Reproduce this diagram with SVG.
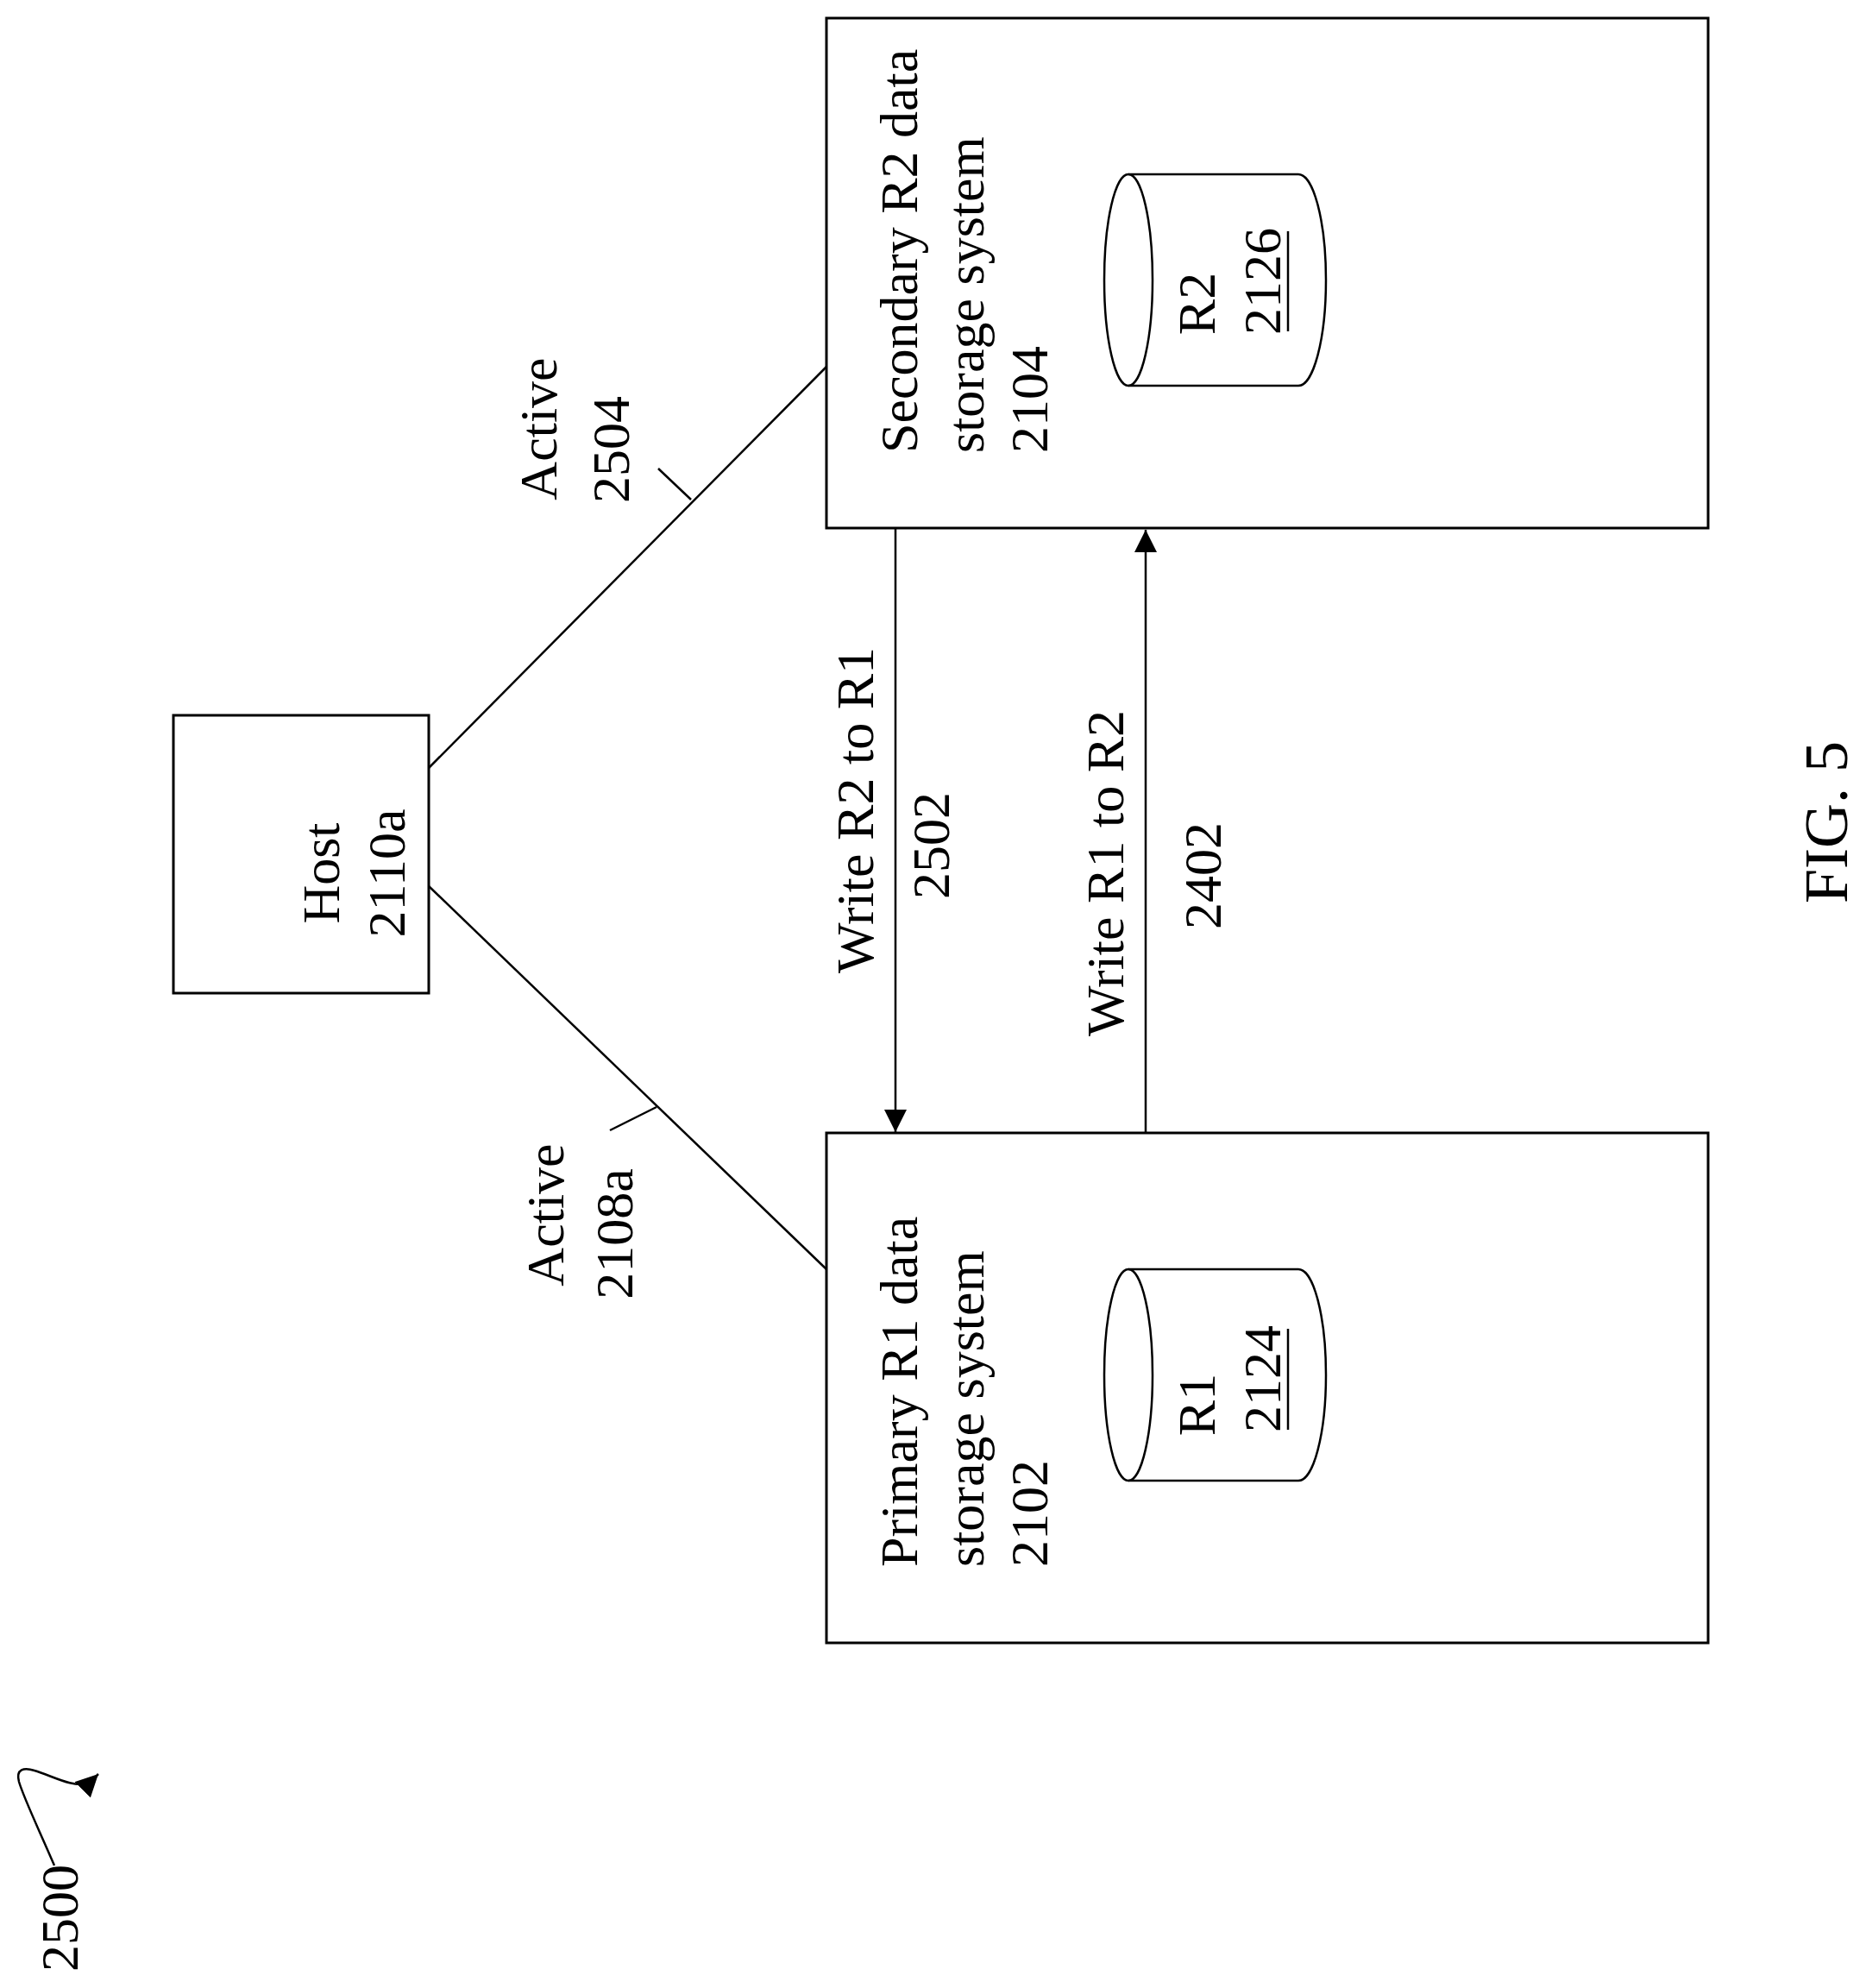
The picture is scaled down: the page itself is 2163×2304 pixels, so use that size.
<svg xmlns="http://www.w3.org/2000/svg" width="2163" height="2304" viewBox="0 0 2163 2304">
<style>
text{font-family:"Liberation Serif","Times New Roman",serif;font-size:62px;fill:#000}
.c{text-anchor:middle}
.box{fill:none;stroke:#000;stroke-width:3}
.ln{fill:none;stroke:#000;stroke-width:2.5}
</style>
<defs>
<marker id="ah" viewBox="0 0 10 10" refX="10" refY="5" markerWidth="10" markerHeight="10" markerUnits="userSpaceOnUse" orient="auto"><path d="M0,0L10,5L0,10z" fill="#000"/></marker>
<marker id="ah2" viewBox="0 0 10 10" refX="10" refY="5" markerWidth="26" markerHeight="26" markerUnits="userSpaceOnUse" orient="auto"><path d="M0,0L10,5L0,10z" fill="#000"/></marker>
</defs>
<rect width="2163" height="2304" fill="#fff"/>
<g id="connectors">
<line class="ln" x1="497" y1="890" x2="958" y2="425"/>
<line class="ln" x1="801" y1="579" x2="763" y2="543"/>
<line class="ln" x1="497" y1="1027" x2="958" y2="1471"/>
<line class="ln" x1="761" y1="1283" x2="707" y2="1310"/>
<line class="ln" x1="1038" y1="612" x2="1038" y2="1312" marker-end="url(#ah2)"/>
<line class="ln" x1="1328" y1="1313" x2="1328" y2="614" marker-end="url(#ah2)"/>
<text transform="translate(645,497) rotate(-90)" class="c">Active</text>
<text transform="translate(729,521) rotate(-90)" class="c">2504</text>
<text transform="translate(653,1408) rotate(-90)" class="c">Active</text>
<text transform="translate(733,1430) rotate(-90)" class="c">2108a</text>
<text transform="translate(1012,939) rotate(-90)" class="c">Write R2 to R1</text>
<text transform="translate(1100,980) rotate(-90)" class="c">2502</text>
<text transform="translate(1302,1012) rotate(-90)" class="c">Write R1 to R2</text>
<text transform="translate(1415,1015) rotate(-90)" class="c">2402</text>
</g>
<g id="host">
<rect class="box" x="201" y="829" width="296" height="322"/>
<text transform="translate(393,1012) rotate(-90)" class="c">Host</text>
<text transform="translate(469,1012) rotate(-90)" class="c">2110a</text>
</g>
<g id="secondary">
<rect class="box" x="958" y="21" width="1022" height="591"/>
<text transform="translate(1063,525) rotate(-90)">Secondary R2 data</text>
<text transform="translate(1140,525) rotate(-90)">storage system</text>
<text transform="translate(1214,525) rotate(-90)">2104</text>
</g>
<g id="r2">
<path class="ln" d="M1308,202 L1505,202 A32,122.5 0 0 1 1505,447 L1308,447"/>
<ellipse class="ln" cx="1308" cy="324.5" rx="28" ry="122.5"/>
<text transform="translate(1408,352) rotate(-90)" class="c">R2</text>
<text transform="translate(1484,326) rotate(-90)" class="c">2126</text>
<line class="ln" x1="1493" y1="268" x2="1493" y2="384"/>
</g>
<g id="primary">
<rect class="box" x="958" y="1313" width="1022" height="591"/>
<text transform="translate(1063,1816) rotate(-90)">Primary R1 data</text>
<text transform="translate(1140,1816) rotate(-90)">storage system</text>
<text transform="translate(1214,1816) rotate(-90)">2102</text>
</g>
<g id="r1">
<path class="ln" d="M1308,1471 L1505,1471 A32,122.5 0 0 1 1505,1716 L1308,1716"/>
<ellipse class="ln" cx="1308" cy="1593.5" rx="28" ry="122.5"/>
<text transform="translate(1408,1628) rotate(-90)" class="c">R1</text>
<text transform="translate(1484,1598) rotate(-90)" class="c">2124</text>
<line class="ln" x1="1493" y1="1540" x2="1493" y2="1657"/>
</g>
<g id="label">
<text transform="translate(2141,953) rotate(-90)" class="c" style="font-size:72px">FIG. 5</text>
<text transform="translate(90,2285) rotate(-90)">2500</text>
<path class="ln" d="M63,2162 C45,2120 28,2085 22,2065 C18,2050 28,2048 40,2052 C60,2058 85,2072 100,2067 C106,2065 110,2060 114,2056" marker-end="url(#ah2)"/>
</g>
</svg>
